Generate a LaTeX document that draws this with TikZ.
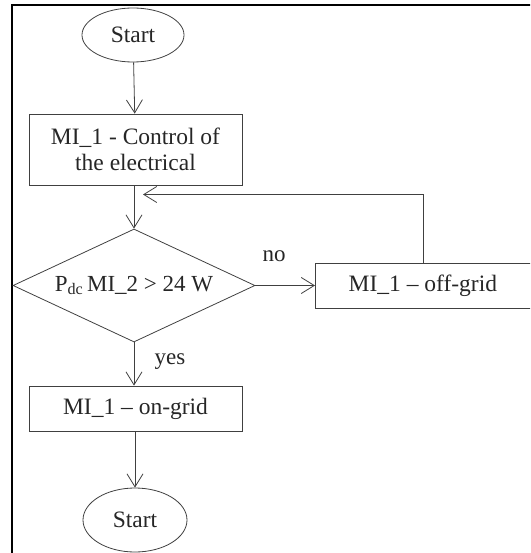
\documentclass[tikz,border=0pt]{standalone}
\usepackage{fontspec}
\setmainfont{Liberation Serif}
\usetikzlibrary{arrows.meta,shapes.geometric}
\begin{document}
\begin{tikzpicture}[x=1pt,y=-1pt,
  every node/.style={font=\fontsize{23.5}{26}\selectfont, text=black!85},
  ln/.style={draw=black!75, line width=0.8pt},
  arr/.style={ln, -{Straight Barb[length=13pt,width=16pt,line width=0.8pt]}},
  term/.style={ln, ellipse, minimum width=#1, inner sep=0pt},
  proc/.style={ln, rectangle, inner sep=0pt, align=center},
  dec/.style={ln, diamond, inner sep=0pt},
  lbl/.style={inner sep=0pt, font=\fontsize{23}{25}\selectfont}]
\useasboundingbox (0,0) rectangle (530,553);
\begin{scope}
\clip (0,0) rectangle (530,553);
\draw[black, line width=2pt] (12,560) -- (12,5.5) -- (540,5.5);
\node[term=102pt, minimum height=54pt] (s1) at (133,35) {Start};
\node[proc, minimum width=213pt, minimum height=71pt] (b1) at (135.5,149.5) {MI\_1 - Control of\\the electrical};
\node[dec, minimum width=242pt, minimum height=113pt] (d) at (134,285.5) {};
\node[lbl] (dtext) at (d.center) {P\textsubscript{dc}\,MI\_2 > 24 W};
\node[proc, minimum width=220pt, minimum height=45pt, anchor=west] (off) at (315,285.5) {\hspace*{-5pt}MI\_1 – off-grid};
\node[proc, minimum width=213pt, minimum height=45pt] (on) at (135.5,408.5) {MI\_1 – on-grid};
\node[term=104pt, minimum height=64pt] (s2) at (135,520) {Start};
\coordinate (fbx) at (423,194.5);
\coordinate (fbend) at (134,194.5);
\draw[arr] (s1) -- (b1);
\draw[arr] (b1.south -| d.north) -- (d.north);
\draw[arr] (d.east) -- (off.west);
\draw[ln] (off.north -| fbx) -- (fbx);
\draw[arr] (fbx) -- ([xshift=9pt]fbend);
\draw[arr] (d.south) -- (on.north -| d.south);
\draw[arr] (on.south -| s2.north) -- (s2.north);
\node[lbl] (no) at (274,256) {no};
\node[lbl] (yes) at (170,362) {yes};
\end{scope}
\end{tikzpicture}
\end{document}
